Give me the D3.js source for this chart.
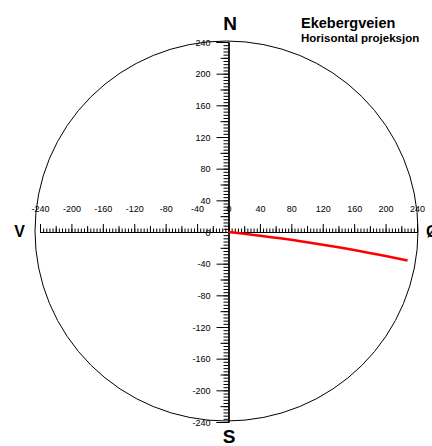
<!DOCTYPE html>
<html><head><meta charset="utf-8">
<script src="https://cdn.jsdelivr.net/npm/d3@7"></script>
<style>body{margin:0;background:#fff}svg{display:block}text{font-family:"Liberation Sans",Arial,sans-serif}</style>
</head><body>
<script>
const majorTicks = [-240,-200,-160,-120,-80,-40,0,40,80,120,160,200,240];
const trackX = [0,20,40,60,80,100,120,140,160,180,200,228];
const trackY = [0,-2.2,-4.6,-7.2,-9.9,-12.9,-16,-19.3,-22.8,-26.5,-30.3,-36];
const title = "Ekebergveien", subtitle = "Horisontal projeksjon";
const dirs = ["N","S","V","Ø"];

const W=432,H=446;
const svg=d3.select("body").append("svg").attr("width",W).attr("height",H);
const x=d3.scaleLinear().domain([-240,240]).range([40,417]);
const y=d3.scaleLinear().domain([-240,240]).range([422,42]);
const minor=d3.range(-240,241,4), mid=d3.range(-220,221,40);
const fmt=d=>String(d);

// circle
svg.append("ellipse").attr("cx",226.5).attr("cy",231).attr("rx",191.5).attr("ry",190)
  .attr("fill","none").attr("stroke","#000").attr("stroke-width",1);

// horizontal axis
const gx=svg.append("g").attr("transform",`translate(0,${y(0)})`);
gx.append("g").call(d3.axisTop(x).tickValues(minor).tickSize(3.5).tickFormat(""));
gx.append("g").call(d3.axisTop(x).tickValues(mid).tickSize(6).tickFormat(""));
gx.append("g").call(d3.axisTop(x).tickValues(majorTicks).tickSize(8).tickPadding(12).tickFormat(fmt));
// vertical axis
const gy=svg.append("g").attr("transform",`translate(${x(0)},0)`);
gy.append("g").call(d3.axisLeft(y).tickValues(minor).tickSize(5).tickFormat(""));
gy.append("g").call(d3.axisLeft(y).tickValues(mid).tickSize(8).tickFormat(""));
gy.append("g").call(d3.axisLeft(y).tickValues(majorTicks).tickSize(12).tickPadding(6).tickFormat(fmt));
svg.selectAll(".domain").attr("stroke","#000");
svg.selectAll(".tick line").attr("stroke","#000");
svg.selectAll(".tick text").attr("font-size",9).attr("font-family","Liberation Sans, Arial, sans-serif").attr("fill","#000");
gy.selectAll(".tick text").attr("dy","0.35em");

// track
const pts=trackX.map((v,i)=>[v,trackY[i]]);
svg.append("path").datum(pts).attr("fill","none").attr("stroke","#f00").attr("stroke-width",2.5)
  .attr("d",d3.line().x(d=>x(d[0])).y(d=>y(d[1])).curve(d3.curveMonotoneX));

// direction letters
const lt=svg.append("g").attr("font-weight","bold").attr("fill","#000");
lt.append("text").attr("x",230).attr("y",30).attr("text-anchor","middle").attr("font-size",19).text(dirs[0]);
lt.append("text").attr("x",229).attr("y",443).attr("text-anchor","middle").attr("font-size",19).text(dirs[1]);
lt.append("text").attr("x",19.5).attr("y",237).attr("text-anchor","middle").attr("font-size",16).text(dirs[2]);
lt.append("text").attr("x",426).attr("y",237).attr("font-size",16).text(dirs[3]);

// title
svg.append("text").attr("x",301).attr("y",28).attr("font-weight","bold").attr("font-size",14.5).text(title);
svg.append("text").attr("x",301).attr("y",42).attr("font-weight","bold").attr("font-size",11.5).text(subtitle);
</script>
</body></html>
